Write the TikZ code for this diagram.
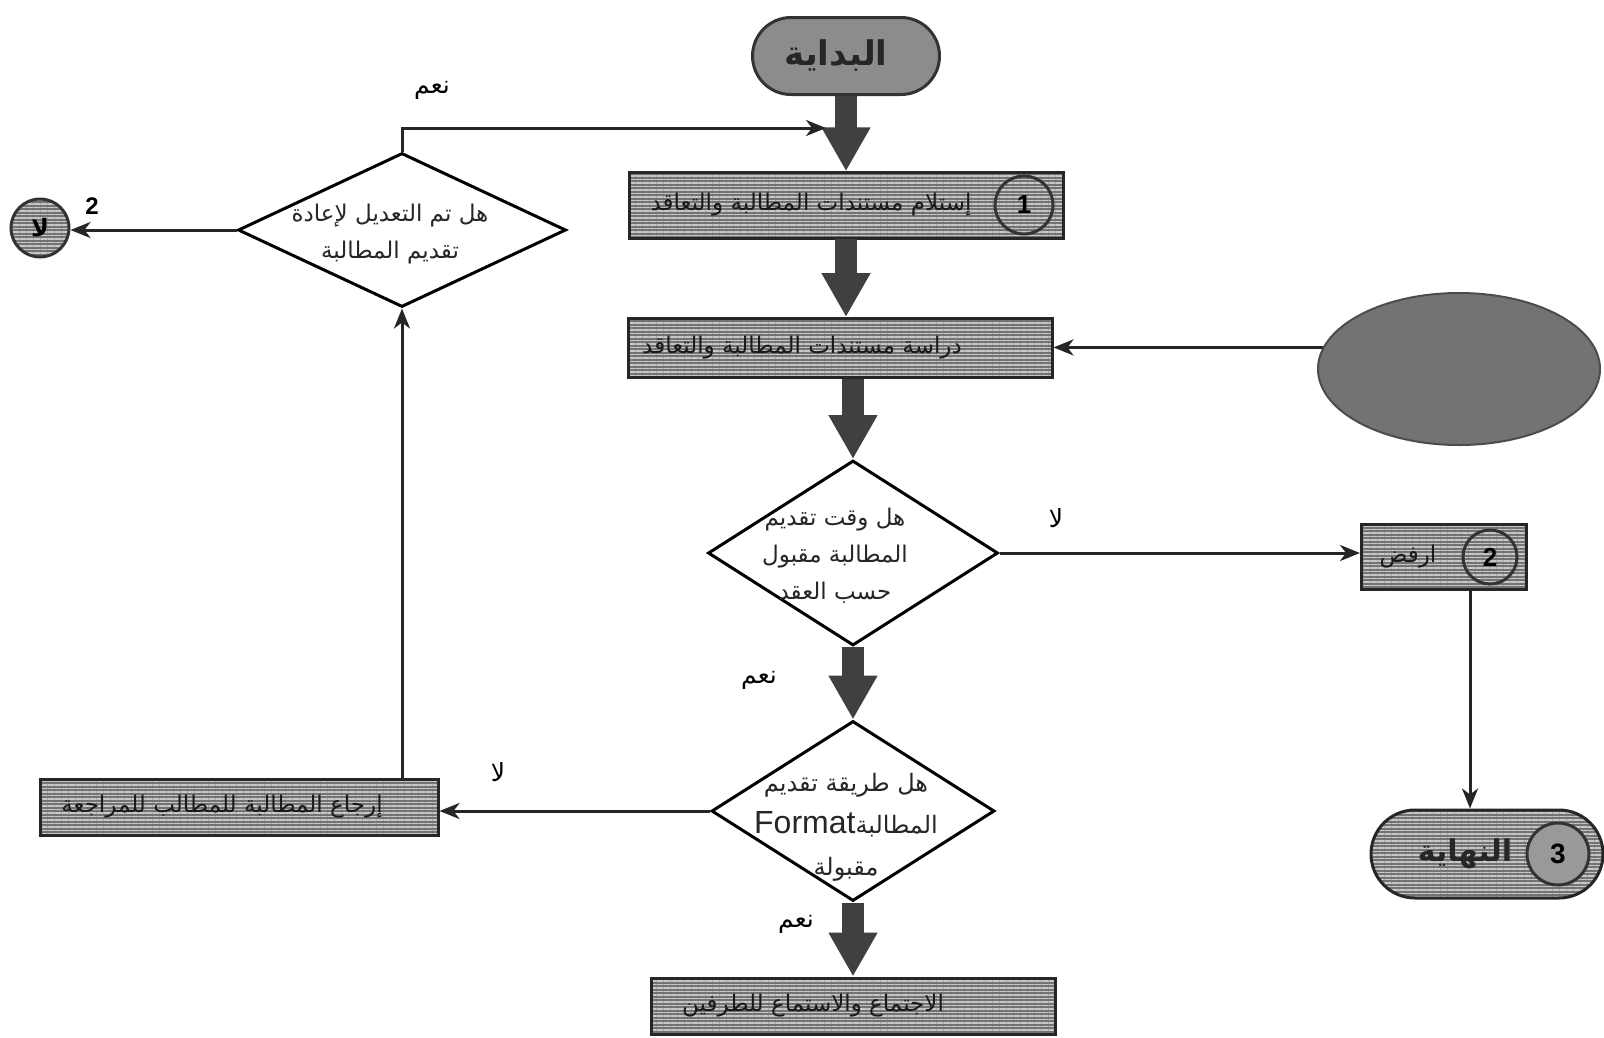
\documentclass[tikz,border=0pt]{standalone}
\usepackage{fontspec}
\setmainfont{Liberation Sans}
\newfontfamily\ar[Script=Arabic]{DejaVu Sans}
\TeXXeTstate=1
\usetikzlibrary{shapes.geometric,shapes.misc,arrows.meta,patterns.meta,calc}
\begin{document}
\begin{tikzpicture}[
 x=1pt,y=-1pt,
 stripes/.style={preaction={fill=black!55}, pattern={Lines[angle=0,distance=3.5pt,line width=1.4pt]}, pattern color=black!22},
 procbox/.style={rectangle, draw=black!85, line width=3pt, stripes, inner sep=0pt},
 num/.style={circle, draw=black!80, line width=3pt, stripes, inner sep=0pt, font=\fontsize{26}{26}\selectfont\bfseries},
 decision/.style={diamond, draw=black, line width=3pt, fill=white, inner sep=0pt},
 dtext/.style={font=\fontsize{23}{37}\selectfont, align=center, text=black!85},
 btext/.style={font=\fontsize{23}{26}\selectfont, text=black!90},
 lab/.style={font=\fontsize{25}{26}\selectfont},
 bigarrow/.style={draw=black!75, line width=22pt, -{Triangle[width=46pt,length=44pt]}},
 thinarrow/.style={draw=black!85, line width=3pt, -{Stealth[length=20pt,width=16pt,inset=6pt]}},
]
\useasboundingbox (0,0) rectangle (1604,1037);
\fill[white] (0,0) rectangle (1604,1037);

% nodes
\node[rounded rectangle, draw=black!80, line width=3pt, fill=black!45, minimum width=187pt, minimum height=77pt, inner sep=0pt,
  label={[xshift=-10pt, font=\fontsize{34}{34}\selectfont\bfseries, text=black!85]center:{\ar\beginR البداية\endR}}] (start) at (846,56) {};
\node[procbox, minimum width=434pt, minimum height=66pt,
  label={[btext,xshift=-35pt]center:{\ar\beginR إستلام مستندات المطالبة والتعاقد\endR}}] (box1) at (846,205) {};
\node[num, minimum size=58pt] (n1) at (1024,205) {1};
\node[procbox, minimum width=424pt, minimum height=59pt,
  label={[btext,xshift=-38pt]center:{\ar\beginR دراسة مستندات المطالبة والتعاقد\endR}}] (box2) at (840,348) {};
\node[ellipse, draw=black!70, line width=2pt, fill=black!55, minimum width=282pt, minimum height=152pt] (ell) at (1459,369) {};
\node[decision, minimum width=290pt, minimum height=185pt,
  label={[dtext,xshift=-18pt,yshift=-3pt]center:{\ar\beginR هل وقت تقديم\endR}\\{\ar\beginR المطالبة مقبول\endR}\\{\ar\beginR حسب العقد\endR}}] (d1) at (853,553) {};
\node[procbox, minimum width=165pt, minimum height=65pt,
  label={[btext,xshift=-36pt]center:{\ar\beginR ارفض\endR}}] (rafd) at (1444,557) {};
\node[num, minimum size=54pt] (n2) at (1490,557) {2};
\node[rounded rectangle, draw=black!85, line width=3pt, stripes, minimum width=232pt, minimum height=88pt, inner sep=0pt,
  label={[xshift=-22pt, font=\fontsize{30}{30}\selectfont\bfseries, text=black!85]center:{\ar\beginR النهاية\endR}}] (endp) at (1487,854) {};
\node[circle, draw=black!80, line width=3pt, fill=black!40, minimum size=62pt, inner sep=0pt, font=\fontsize{28}{28}\selectfont\bfseries] (n3) at (1558,854) {3};
\node[decision, minimum width=283pt, minimum height=180pt,
  label={[dtext,xshift=-7pt,yshift=-16pt,font=\fontsize{24}{42}\selectfont]center:{\ar\beginR هل طريقة تقديم\endR}\\{\ar\beginR المطالبة\beginL{\rmfamily\fontsize{32}{32}\selectfont Format}\endL\endR}\\{\ar\beginR مقبولة\endR}}] (d2) at (853,811) {};
\node[procbox, minimum width=398pt, minimum height=56pt,
  label={[btext,xshift=-17pt]center:{\ar\beginR إرجاع المطالبة للمطالب للمراجعة\endR}}] (lbox) at (239,807) {};
\node[decision, minimum width=328pt, minimum height=154pt,
  label={[dtext,xshift=-12pt,yshift=-4pt]center:{\ar\beginR هل تم التعديل لإعادة\endR}\\{\ar\beginR تقديم المطالبة\endR}}] (d3) at (402,230) {};
\node[circle, draw=black!80, line width=3pt, stripes, minimum size=58pt, inner sep=0pt, font=\fontsize{24}{24}\selectfont\bfseries] (cl) at (40,228) {{\ar\beginR لا\endR}};
\node[procbox, minimum width=404pt, minimum height=56pt,
  label={[btext,xshift=-40pt]center:{\ar\beginR الاجتماع والاستماع للطرفين\endR}}] (bbox) at (853,1006) {};

% labels
\node[lab] (yes1) at (432,90) {{\ar\beginR نعم\endR}};
\node[font=\fontsize{24}{24}\selectfont\bfseries] (two) at (92,206) {2};
\node[lab] (no1) at (1056,518) {{\ar\beginR لا\endR}};
\node[lab] (yes2) at (759,680) {{\ar\beginR نعم\endR}};
\node[lab] (no2) at (498,772) {{\ar\beginR لا\endR}};
\node[lab] (yes3) at (796,924) {{\ar\beginR نعم\endR}};

\coordinate (tip) at (826,128);

% big arrows
\draw[bigarrow] (start.south) -- (box1.north);
\draw[bigarrow] (box1.south) -- (box1.south |- box2.north);
\draw[bigarrow] (box2.south -| d1.north) -- (d1.north);
\draw[bigarrow] (d1.south) -- (d2.north);
\draw[bigarrow] (d2.south) -- (bbox.north);

% thin arrows
\draw[thinarrow] (d3.north) |- (tip);
\draw[thinarrow] (d3.west) -- (d3.west -| cl.east);
\draw[thinarrow] (lbox.north -| d3.south) -- (d3.south);
\draw[thinarrow] (d2.west) -- (d2.west -| lbox.east);
\draw[thinarrow] (d1.east) -- (d1.east -| rafd.west);
\draw[thinarrow] ([xshift=26pt]rafd.south) -- ([xshift=26pt]rafd.south |- endp.north);
\draw[thinarrow] (ell.171) -- (ell.171 -| box2.east);
\end{tikzpicture}
\end{document}
